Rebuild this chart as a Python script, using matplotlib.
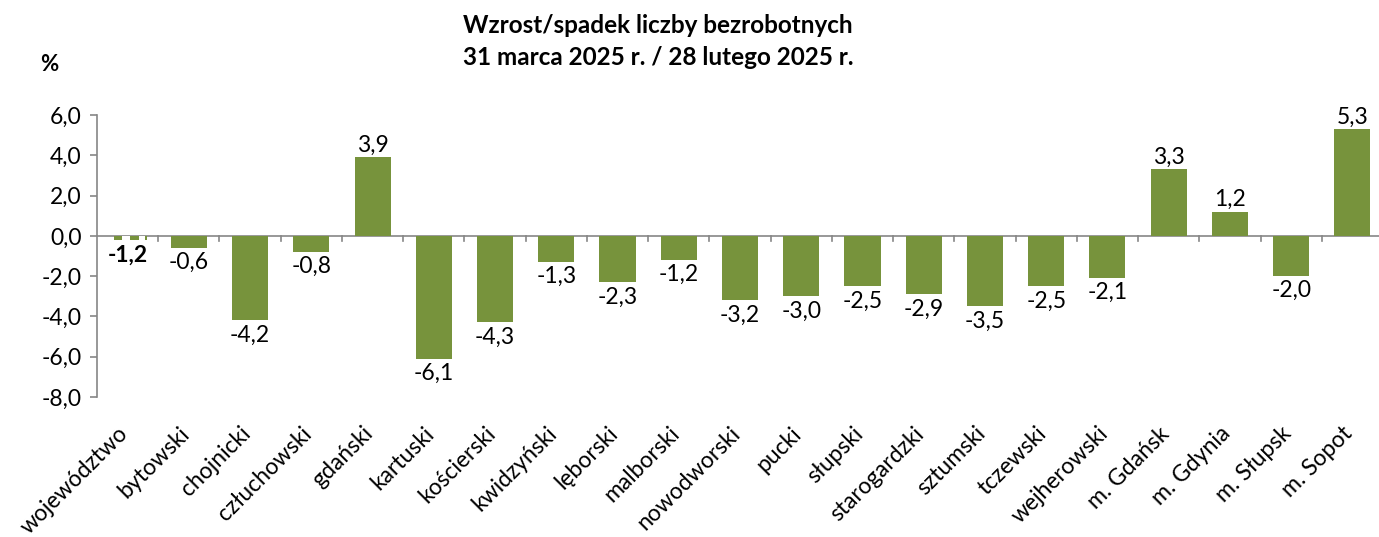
import numpy as np
import matplotlib.pyplot as plt
import matplotlib.transforms as mtransforms

# dane
powiaty = ["województwo", "bytowski", "chojnicki", "człuchowski", "gdański", "kartuski",
           "kościerski", "kwidzyński", "lęborski", "malborski", "nowodworski", "pucki",
           "słupski", "starogardzki", "sztumski", "tczewski", "wejherowski", "m. Gdańsk",
           "m. Gdynia", "m. Słupsk", "m. Sopot"]
zmiana = [-1.2, -0.6, -4.2, -0.8, 3.9, -6.1, -4.3, -1.3, -2.3, -1.2, -3.2, -3.0,
          -2.5, -2.9, -3.5, -2.5, -2.1, 3.3, 1.2, -2.0, 5.3]
# pierwszy słupek na wykresie jest tylko krótkim, przerywanym "kikutem"
woj_stub = -0.22
yticks = [6, 4, 2, 0, -2, -4, -6, -8]

green = "#77933C"
gray = "#868686"
plt.rcParams['font.family'] = ['Lato', 'DejaVu Sans']
fs = 16.5

fig = plt.figure(figsize=(13.79, 5.37), dpi=100)
ax = fig.add_axes([97/1379, 140/537, 1286/1379, 282/537])

x = np.arange(len(powiaty))
ax.bar(x[1:], zmiana[1:], width=0.59, color=green, zorder=2)
# przerywany słupek dla województwa
ax.bar(x[0] + 0.047, woj_stub, width=0.54, color=green, zorder=2)
for k, w in [(-0.026, 0.13), (0.235, 0.1)]:
    ax.bar(x[0] + k, woj_stub, width=w, color="white", zorder=3)

# etykiety danych
for i, v in enumerate(zmiana):
    s = f"{v:.1f}".replace(".", ",")
    bold = "bold" if i == 0 else "normal"
    top = v if i > 0 else woj_stub
    if v >= 0:
        ax.annotate(s, (x[i], top), xytext=(0, 1), textcoords="offset points",
                    ha="center", va="bottom", fontsize=fs, fontweight=bold)
    else:
        ax.annotate(s, (x[i], top), xytext=(0, -3), textcoords="offset points",
                    ha="center", va="top", fontsize=fs, fontweight=bold)

ax.set_ylim(-8, 6)
ax.set_xlim(-0.5, len(powiaty) - 0.5)
ax.set_yticks(yticks)
ax.set_yticklabels([f"{t:.1f}".replace(".", ",") for t in yticks], fontsize=fs)
ax.set_xticks(x)
ax.set_xticklabels(powiaty, rotation=45, ha="right", va="center",
                   rotation_mode="anchor", fontsize=fs)
ax.tick_params(axis="x", length=0, pad=24)
ax.tick_params(axis="y", length=5, color=gray, width=1.2, pad=6)
shift = mtransforms.ScaledTranslation(-3/100, 0, fig.dpi_scale_trans)
for lab in ax.get_xticklabels():
    lab.set_transform(lab.get_transform() + shift)

for sp in ["top", "right", "bottom"]:
    ax.spines[sp].set_visible(False)
ax.spines["left"].set_color(gray)
ax.spines["left"].set_linewidth(1.2)

# oś pozioma na zerze z kreskami między kategoriami
ax.axhline(0, color=gray, lw=1.2, zorder=1)
for b in np.arange(0.5, len(powiaty) - 0.5, 1.0):
    ax.plot([b, b], [0, -0.28], color=gray, lw=1.2, zorder=1)

fig.text(0.477, 0.953, "Wzrost/spadek liczby bezrobotnych", ha="center", va="center",
         fontsize=17.5, fontweight="bold")
fig.text(0.477, 0.892, "31 marca 2025 r. / 28 lutego 2025 r.", ha="center", va="center",
         fontsize=17.5, fontweight="bold")
fig.text(0.036, 0.88, "%", ha="center", va="center", fontsize=16, fontweight="bold")

fig.savefig("out.png", dpi=100)
